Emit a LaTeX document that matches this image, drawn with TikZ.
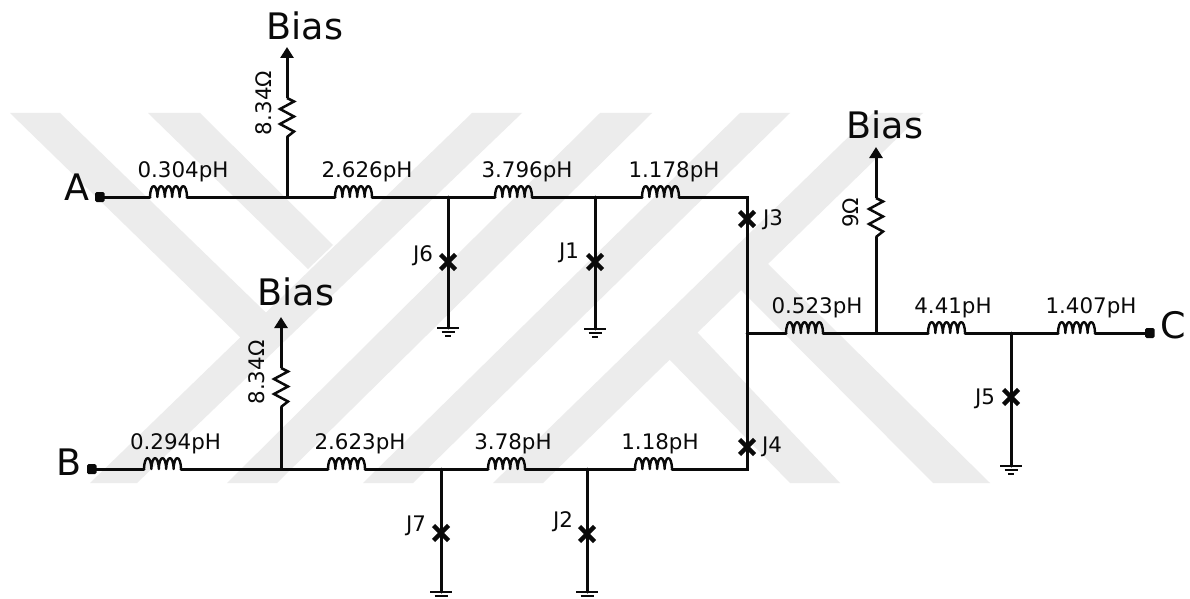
\documentclass[tikz,border=0pt]{standalone}
\usepackage{fontspec}
\setmainfont{DejaVu Sans}
\usetikzlibrary{arrows.meta}
\definecolor{wm}{HTML}{ECECEC}
\definecolor{ink}{HTML}{0A0A0A}
\tikzset{
  wire/.style={draw=ink,line width=3pt,line cap=round},
  coilline/.style={draw=ink,line width=2.4pt,line join=round},
  rline/.style={draw=ink,line width=2.5pt,line join=miter},
  xline/.style={draw=ink,line width=4.4pt},
  gline/.style={draw=ink,line width=2pt},
  band/.style={fill=wm,draw=none},
  lbl/.style={inner sep=0pt,anchor=base,text=ink,font=\fontsize{21.4}{24}\selectfont},
  big/.style={inner sep=0pt,anchor=base,text=ink,font=\fontsize{36.5}{40}\selectfont},
  term/.style={fill=ink,draw=none,rounded corners=1.5pt},
  arrowline/.style={wire,-{Triangle[length=11pt,width=13pt]},line cap=butt},
  inductor/.pic={\draw[coilline] (0,0)
     .. controls (0.4,-14.5) and (7.0,-14.5) .. (7.4,0)
     .. controls (7.8,-14.5) and (14.4,-14.5) .. (14.8,0)
     .. controls (15.2,-14.5) and (21.8,-14.5) .. (22.2,0)
     .. controls (22.6,-14.5) and (29.2,-14.5) .. (29.6,0)
     .. controls (30.0,-14.5) and (36.6,-14.5) .. (37,0);},
  resistor/.pic={\draw[rline] (0,0) -- (7,3.5) -- (-7,11) -- (7,18.5) -- (-7,26) -- (7,33.5) -- (0,39);},
  ground/.pic={\draw[gline] (-11,0) -- (11,0) (-6.5,4) -- (6.5,4) (-3,7.5) -- (3,7.5);},
  jj/.pic={\draw[xline] (-7.5,-7.5) -- (7.5,7.5) (-7.5,7.5) -- (7.5,-7.5);}
}
\begin{document}
\begin{tikzpicture}[x=1pt,y=-1pt]
\useasboundingbox (0,0) rectangle (1190,599);
\fill[white] (0,0) rectangle (1190,599);
% watermark
\fill[band] (472,113) -- (522,113) -- (137,483) -- (90,483) -- cycle;
\fill[band] (600,113) -- (652,113) -- (277,483) -- (227,483) -- cycle;
\fill[band] (740,113) -- (790,113) -- (413,483) -- (363,483) -- cycle;
\fill[band] (873,113) -- (923,113) -- (543,483) -- (493,483) -- cycle;
\fill[band] (10,113) -- (60,113) -- (288,334) -- (240,337) -- cycle;
\fill[band] (148,113) -- (200,113) -- (333,245) -- (308,269) -- cycle;
\fill[band] (668,358) -- (697,332) -- (840,483) -- (790,483) -- cycle;
\fill[band] (741,290) -- (767,263) -- (990,483) -- (933,483) -- cycle;

% coordinates: top row
\coordinate (ta) at (103,197);
\coordinate (a1) at (150,197); \coordinate (a2) at (187,197);
\coordinate (tb1) at (287,197);
\coordinate (b1) at (335,197); \coordinate (b2) at (372,197);
\coordinate (tj6) at (448,197);
\coordinate (c1) at (495,197); \coordinate (c2) at (532,197);
\coordinate (tj1) at (595,197);
\coordinate (d1) at (642,197); \coordinate (d2) at (679,197);
\coordinate (tr) at (747,197);
% bottom row
\coordinate (tB) at (95,469);
\coordinate (e1) at (144,469); \coordinate (e2) at (181,469);
\coordinate (bb) at (281,469);
\coordinate (f1) at (328,469); \coordinate (f2) at (365,469);
\coordinate (bj7) at (441,469);
\coordinate (g1) at (488,469); \coordinate (g2) at (525,469);
\coordinate (bj2) at (587,469);
\coordinate (h1) at (635,469); \coordinate (h2) at (672,469);
\coordinate (br) at (747,469);
% middle row
\coordinate (mr) at (747,333);
\coordinate (i1) at (786,333); \coordinate (i2) at (823,333);
\coordinate (mb) at (876,333);
\coordinate (k1) at (928,333); \coordinate (k2) at (965,333);
\coordinate (mj5) at (1011,333);
\coordinate (m1) at (1058,333); \coordinate (m2) at (1095,333);
\coordinate (tC) at (1147,333);
% bias stems
\coordinate (ra1) at (287,98); \coordinate (rb1) at (287,137); \coordinate (ua) at (287,47);
\coordinate (ra2) at (281,368); \coordinate (rb2) at (281,407); \coordinate (ub) at (281,317);
\coordinate (ra3) at (876,198); \coordinate (rb3) at (876,237); \coordinate (uc) at (876,147);
% grounds
\coordinate (g6) at (448,328); \coordinate (g1b) at (595,329);
\coordinate (g7) at (441,592); \coordinate (g2b) at (587,592);
\coordinate (g5) at (1011,466);

% wires
\draw[wire,line join=miter] (ta) -- (a1) (a2) -- (b1) (b2) -- (c1) (c2) -- (d1) (d2) -- (tr) -- (br) -- (h2)
  (h1) -- (g2) (g1) -- (f2) (f1) -- (e2) (e1) -- (tB)
  (mr) -- (i1) (i2) -- (k1) (k2) -- (m1) (m2) -- (tC);
\draw[wire] (tb1) -- (rb1) (bb) -- (rb2) (mb) -- (rb3);
\draw[arrowline] (ra1) -- (ua);
\draw[arrowline] (ra2) -- (ub);
\draw[arrowline] (ra3) -- (uc);
\draw[wire] (tj6) -- (g6) (tj1) -- (g1b) (bj7) -- (g7) (bj2) -- (g2b) (mj5) -- (g5);

% inductors
\foreach \c in {a1,b1,c1,d1,e1,f1,g1,h1,i1,k1,m1} \pic at (\c) {inductor};
% resistors
\foreach \c in {ra1,ra2,ra3} \pic at (\c) {resistor};
% grounds
\foreach \c in {g6,g1b,g7,g2b,g5} \pic at (\c) {ground};
% junctions
\pic at (448,262) {jj};
\pic at (595,262) {jj};
\pic at (747,219) {jj};
\pic at (747,447) {jj};
\pic at (1011,397) {jj};
\pic at (441,533) {jj};
\pic at (587,534) {jj};
% terminals
\fill[term] (95,192) rectangle (104.5,202);
\fill[term] (87,464) rectangle (96.5,474);
\fill[term] (1145,328) rectangle (1154.5,338);

% labels
\node[lbl] (l1) at (183,177) {0.304pH};
\node[lbl] (l2) at (367,177) {2.626pH};
\node[lbl] (l3) at (527,177) {3.796pH};
\node[lbl] (l4) at (674,177) {1.178pH};
\node[lbl] (l5) at (175.5,449) {0.294pH};
\node[lbl] (l6) at (360,449) {2.623pH};
\node[lbl] (l7) at (513,449) {3.78pH};
\node[lbl] (l8) at (660,449) {1.18pH};
\node[lbl] (l9) at (817,313) {0.523pH};
\node[lbl] (l10) at (953,313) {4.41pH};
\node[lbl] (l11) at (1091,313) {1.407pH};
\node[lbl] (j6) at (423,261) {J6};
\node[lbl] (j1) at (569,258) {J1};
\node[lbl] (j3) at (773,225) {J3};
\node[lbl] (j4) at (772,452) {J4};
\node[lbl] (j5) at (985,404) {J5};
\node[lbl] (j7) at (416,531) {J7};
\node[lbl] (j2) at (563,527) {J2};
\node[lbl,rotate=90] (r1) at (271,103) {8.34Ω};
\node[lbl,rotate=90] (r2) at (264,372.5) {8.34Ω};
\node[lbl,rotate=90] (r3) at (858,213) {9Ω};
\node[big] (bias1) at (305,40) {Bias};
\node[big] (bias2) at (296,305) {Bias};
\node[big] (bias3) at (885,138) {Bias};
\node[big] (pa) at (77,200) {A};
\node[big] (pb) at (69,475) {B};
\node[big] (pc) at (1173,338) {C};
\end{tikzpicture}
\end{document}
